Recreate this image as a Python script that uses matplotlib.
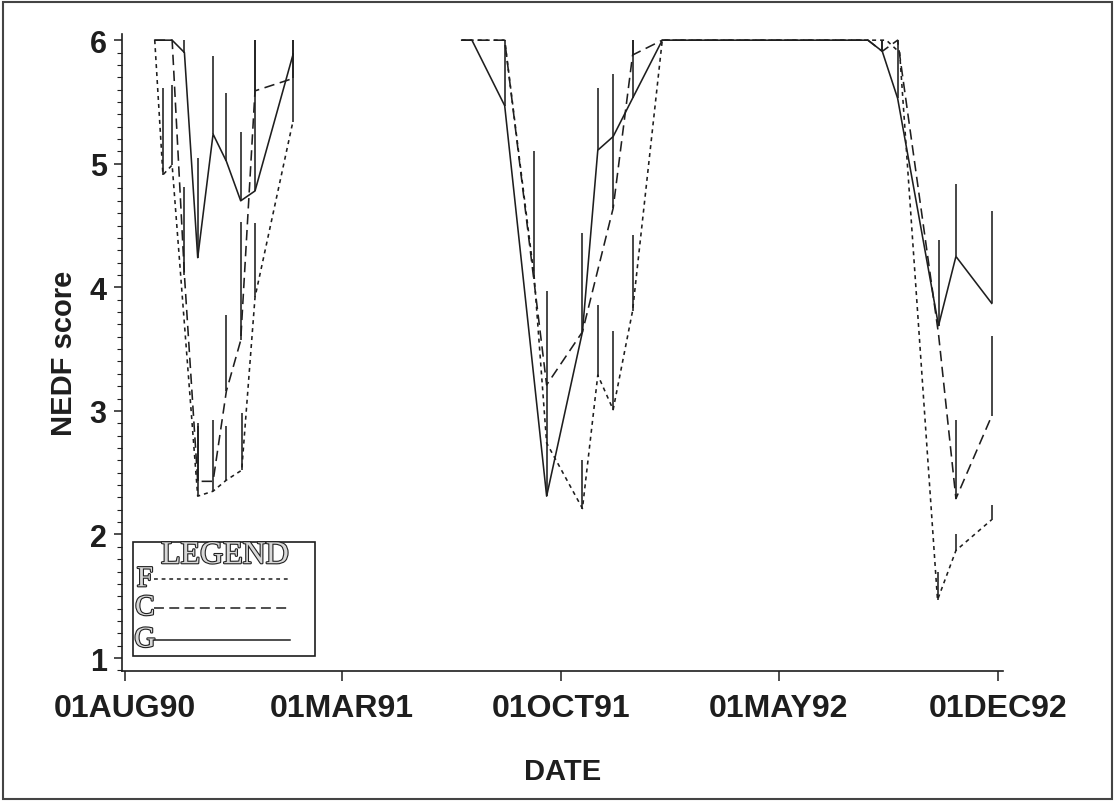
import matplotlib
matplotlib.use('Agg')
import matplotlib.pyplot as plt
import matplotlib.dates as mdates
import matplotlib.patheffects as pe
from matplotlib.patches import Rectangle
from matplotlib.ticker import MultipleLocator, FixedLocator, FixedFormatter
import numpy as np
import pandas as pd

plt.rcParams['font.family'] = ['Liberation Sans', 'DejaVu Sans']

# F treatment (dotted)
f_dates = ['1990-08-30', '1990-09-07', '1990-09-16', '1990-10-11', '1990-10-26',
           '1990-11-08', '1990-11-23', '1990-12-06', '1991-01-12',
           '1991-06-26', '1991-08-07', '1991-09-05', '1991-09-17', '1991-10-22',
           '1991-11-06', '1991-11-21', '1991-12-10', '1992-01-08', '1992-07-27',
           '1992-08-14', '1992-08-27', '1992-10-03', '1992-10-21', '1992-11-25']
f_mean = [6.0, 4.91, 4.99, 2.31, 2.35, 2.44, 2.52, 3.92, 5.34,
          6.0, 6.0, 4.07, 2.74, 2.21, 3.29, 3.01, 3.81, 6.0, 6.0,
          6.0, 5.90, 1.47, 1.87, 2.12]
f_upper = [6.0, 5.61, 5.64, 2.88, 2.93, 2.88, 2.98, 4.52, 5.90,
           6.0, 6.0, 5.10, 2.74, 2.60, 3.86, 3.65, 4.42, 6.0, 6.0,
           6.0, 5.90, 1.70, 2.00, 2.24]
f_season = [1] * 9 + [2] * 15

# C treatment (dashed)
c_dates = ['1990-08-30', '1990-09-16', '1990-09-28', '1990-10-11', '1990-10-26',
           '1990-11-08', '1990-11-22', '1990-12-06', '1991-01-12',
           '1991-06-26', '1991-08-07', '1991-09-17', '1991-10-22', '1991-11-21',
           '1991-12-10', '1992-01-08', '1992-07-27', '1992-08-10', '1992-08-25',
           '1992-10-04', '1992-10-21', '1992-11-25']
c_mean = [6.0, 6.0, 4.10, 2.43, 2.43, 3.16, 3.57, 5.59, 5.69,
          6.0, 6.0, 3.21, 3.64, 4.64, 5.88, 6.0, 6.0, 5.91, 6.0,
          3.62, 2.29, 2.96]
c_upper = [6.0, 6.0, 4.81, 2.90, 2.43, 3.78, 4.53, 6.0, 6.0,
           6.0, 6.0, 3.21, 4.44, 5.22, 6.0, 6.0, 6.0, 6.0, 6.0,
           3.62, 2.93, 3.61]
c_season = [1] * 9 + [2] * 13

# G treatment (solid)
g_dates = ['1990-08-30', '1990-09-16', '1990-09-28', '1990-10-11', '1990-10-26',
           '1990-11-08', '1990-11-22', '1990-12-06', '1991-01-12',
           '1991-06-26', '1991-07-06', '1991-08-07', '1991-09-17', '1991-10-22',
           '1991-11-06', '1991-11-21', '1991-12-10', '1992-01-08', '1992-07-27',
           '1992-08-10', '1992-08-25', '1992-10-04', '1992-10-21', '1992-11-25']
g_mean = [6.0, 6.0, 5.90, 4.24, 5.24, 5.02, 4.70, 4.78, 5.88,
          6.0, 6.0, 5.47, 2.31, 3.64, 5.11, 5.22, 5.53, 6.0, 6.0,
          5.91, 5.53, 3.69, 4.25, 3.87]
g_upper = [6.0, 6.0, 6.0, 5.05, 5.87, 5.57, 5.26, 6.0, 6.0,
           6.0, 6.0, 6.0, 3.97, 3.64, 5.61, 5.73, 6.0, 6.0, 6.0,
           6.0, 6.0, 4.38, 4.84, 4.62]
g_season = [1] * 9 + [2] * 15

tick_dates = ['1990-08-01', '1991-03-01', '1991-10-01', '1992-05-01', '1992-12-01']
tick_labels = ['01AUG90', '01MAR91', '01OCT91', '01MAY92', '01DEC92']

ink = '#1e1e1e'
f_style = (0, (2.5, 2.5))
c_style = (0, (6.5, 3.5))
g_style = '-'

fig = plt.figure(figsize=(11.15, 8.03), dpi=100)
ax = fig.add_axes([122 / 1115, 1 - 672 / 803, 881 / 1115, 637 / 803])


def draw(dates, mean, upper, season, style):
    d = pd.to_datetime(dates)
    mean = np.array(mean)
    upper = np.array(upper)
    season = np.array(season)
    for s in np.unique(season):
        m = season == s
        ax.plot(d[m], mean[m], color=ink, lw=1.15, linestyle=style)
    ax.vlines(d, mean, upper, color=ink, lw=1.15)


draw(f_dates, f_mean, f_upper, f_season, f_style)
draw(c_dates, c_mean, c_upper, c_season, c_style)
draw(g_dates, g_mean, g_upper, g_season, g_style)

ax.set_xlim(pd.Timestamp('1990-07-29'), pd.Timestamp('1992-12-06'))
ax.set_ylim(0.895, 6.05)

ax.spines['top'].set_visible(False)
ax.spines['right'].set_visible(False)
for sp in ['left', 'bottom']:
    ax.spines[sp].set_linewidth(1.2)
    ax.spines[sp].set_color(ink)

tick_nums = mdates.date2num(pd.to_datetime(tick_dates))
ax.xaxis.set_major_locator(FixedLocator(tick_nums))
ax.xaxis.set_major_formatter(FixedFormatter(tick_labels))
ax.yaxis.set_major_locator(MultipleLocator(1))
ax.yaxis.set_minor_locator(MultipleLocator(0.1))
ax.tick_params(axis='x', which='major', length=7, width=1.1, pad=9, colors=ink,
               labelsize=23)
ax.tick_params(axis='y', which='major', length=6, width=1.1, pad=5, colors=ink,
               labelsize=22)
ax.tick_params(axis='y', which='minor', length=3.5, width=0.8, colors=ink)
for lab in ax.get_xticklabels() + ax.get_yticklabels():
    lab.set_fontweight('bold')

ax.set_ylabel('NEDF score', fontsize=21, fontweight='bold', color=ink)
ax.yaxis.set_label_coords(-0.05, 0.5)
ax.set_xlabel('DATE', fontsize=21, fontweight='bold', color=ink)
ax.xaxis.set_label_coords(0.5, -0.135)
ax.xaxis.label.set_va('top')

# legend box drawn by hand
ax.add_patch(Rectangle((0.0125, 0.0235), 0.2065, 0.179, transform=ax.transAxes,
                       fill=False, ec=ink, lw=1.2))
outline = [pe.withStroke(linewidth=1.6, foreground='#222222')]
ax.text(0.117, 0.181, 'LEGEND', transform=ax.transAxes, ha='center', va='center',
        fontsize=23, family='Liberation Serif', color='#d8d8d8', path_effects=outline)
for lab, y, st in [('F', 0.144, f_style), ('C', 0.099, c_style), ('G', 0.049, g_style)]:
    ax.text(0.026, y, lab, transform=ax.transAxes, ha='center', va='center',
            fontsize=21, family='Liberation Serif', color='#d8d8d8', path_effects=outline)
    ax.plot([0.036, 0.191], [y, y], transform=ax.transAxes, color=ink, lw=1.1,
            linestyle=st)

fig.patches.append(Rectangle((0.003, 0.004), 0.994, 0.992, transform=fig.transFigure,
                             fill=False, ec='#444444', lw=1.5))

fig.savefig('out.png', dpi=100)
